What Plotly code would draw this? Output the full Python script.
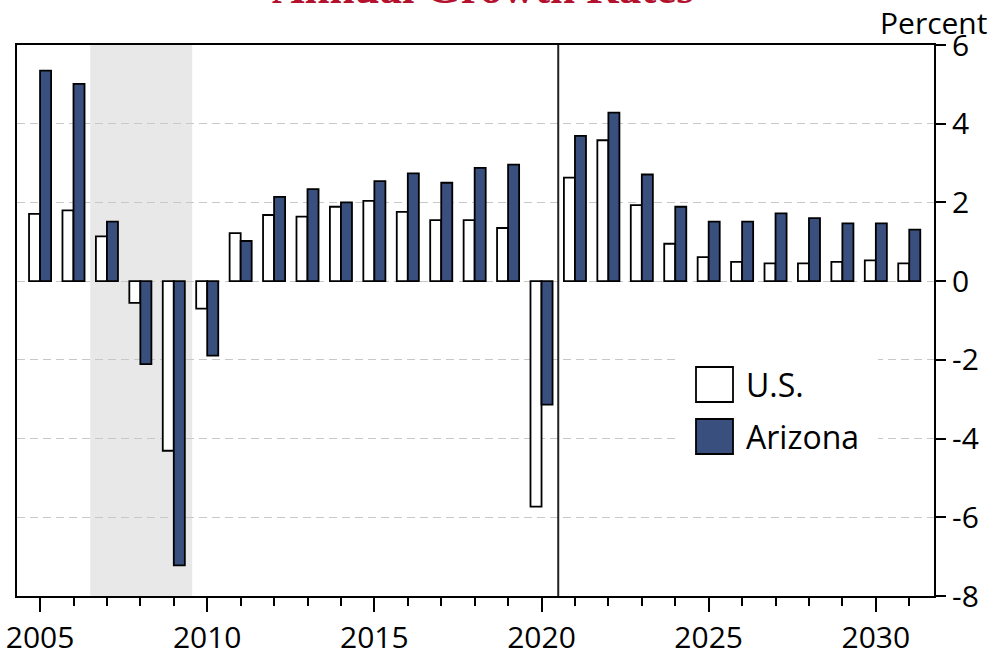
import plotly.graph_objects as go

years = list(range(2005, 2032))
us_growth = [1.71, 1.80, 1.14, -0.55, -4.31, -0.70, 1.22, 1.68, 1.64, 1.89, 2.04, 1.76, 1.55,
             1.55, 1.35, -5.73, 2.63, 3.58, 1.93, 0.95, 0.61, 0.49, 0.45, 0.45, 0.49, 0.53, 0.45]
az_growth = [5.35, 5.01, 1.51, -2.11, -7.22, -1.89, 1.02, 2.14, 2.34, 2.00, 2.54, 2.74, 2.50,
             2.88, 2.96, -3.14, 3.69, 4.28, 2.71, 1.89, 1.51, 1.51, 1.72, 1.60, 1.47, 1.47, 1.31]

y_ticks = [-8, -6, -4, -2, 0, 2, 4, 6]
y_labels = ['-8', '-6', '-4', '-2', '0', '2', '4', '6']

recession = (2006.5, 2009.55)
forecast_start = 2020.5

NAVY = '#39507f'
FONT = 'Open Sans'

# plot area in pixels (for placing the hand-made legend)
L, R, T, B = 17, 934, 45, 596


def px_x(p):
    return (p - L) / (R - L)


def px_y(p):
    return (B - p) / (B - T)


fig = go.Figure()

fig.add_trace(go.Bar(
    x=years, y=us_growth, name='U.S.',
    marker=dict(color='white', line=dict(color='black', width=1.8)),
    showlegend=False
))
fig.add_trace(go.Bar(
    x=years, y=az_growth, name='Arizona',
    marker=dict(color=NAVY, line=dict(color='black', width=1.8)),
    showlegend=False
))

# recession shading
fig.add_shape(type='rect', xref='x', yref='paper', x0=recession[0], x1=recession[1],
              y0=0, y1=1, fillcolor='#e8e8e8', line=dict(width=0), layer='below')

# forecast divider
fig.add_shape(type='line', xref='x', yref='paper', x0=forecast_start, x1=forecast_start,
              y0=0, y1=1, line=dict(color='#222222', width=2), layer='above')

# legend (drawn by hand to get the large swatches)
fig.add_shape(type='rect', xref='paper', yref='paper', x0=px_x(680), x1=px_x(878),
              y0=px_y(458), y1=px_y(343), fillcolor='white', line=dict(width=0), layer='above')
fig.add_shape(type='rect', xref='paper', yref='paper', x0=px_x(696), x1=px_x(733),
              y0=px_y(402), y1=px_y(367), fillcolor='white',
              line=dict(color='black', width=1.8), layer='above')
fig.add_shape(type='rect', xref='paper', yref='paper', x0=px_x(696), x1=px_x(733),
              y0=px_y(454), y1=px_y(419), fillcolor=NAVY,
              line=dict(color='black', width=1.8), layer='above')
fig.add_annotation(text='U.S.', xref='paper', yref='paper', x=px_x(744), y=px_y(384),
                   xanchor='left', yanchor='middle', showarrow=False,
                   font=dict(family=FONT, size=32, color='black'))
fig.add_annotation(text='Arizona', xref='paper', yref='paper', x=px_x(744), y=px_y(436),
                   xanchor='left', yanchor='middle', showarrow=False,
                   font=dict(family=FONT, size=32, color='black'))

# title (mostly cut off at the top, as in the source)
fig.add_annotation(text='<b>Annual Growth Rates</b>', xref='paper', yref='paper',
                   x=px_x(483), y=px_y(15), xanchor='center', yanchor='bottom',
                   showarrow=False,
                   font=dict(family='Liberation Serif', size=45, color='#b3112d'))

fig.add_annotation(text='Percent', xref='paper', yref='paper', x=px_x(989), y=px_y(45),
                   xanchor='right', yanchor='bottom', showarrow=False,
                   font=dict(family=FONT, size=30, color='black'))

fig.update_layout(
    width=993, height=653,
    margin=dict(l=L, r=993 - R, t=T, b=653 - B),
    barmode='group', bargap=0.34, bargroupgap=0,
    plot_bgcolor='white', paper_bgcolor='white',
    font=dict(family=FONT, size=30, color='black'),
    xaxis=dict(
        range=[2004.31, 2031.74], automargin=False,
        tickmode='linear', tick0=2005, dtick=5,
        ticks='outside', ticklen=14, tickwidth=1.5, tickcolor='black',
        minor=dict(dtick=1, tick0=2005, ticks='outside', ticklen=8,
                   tickwidth=1.5, tickcolor='black', showgrid=False),
        showgrid=False, zeroline=False,
        showline=True, linecolor='black', linewidth=2, mirror=True,
        tickfont=dict(size=30)
    ),
    yaxis=dict(
        range=[-8, 6], side='right', automargin=False,
        tickmode='array', tickvals=y_ticks, ticktext=y_labels,
        ticks='outside', ticklen=10, tickwidth=1.5, tickcolor='black',
        showgrid=True, gridcolor='#c8c8c8', gridwidth=1, griddash='8px,5px',
        zeroline=False,
        showline=True, linecolor='black', linewidth=2, mirror=True,
        tickfont=dict(size=30)
    )
)

# drop the browser's default body margin so the figure sits at the window's corner
fig.write_html('out.html', config={'displayModeBar': False},
               post_script="document.body.style.margin='0';")
